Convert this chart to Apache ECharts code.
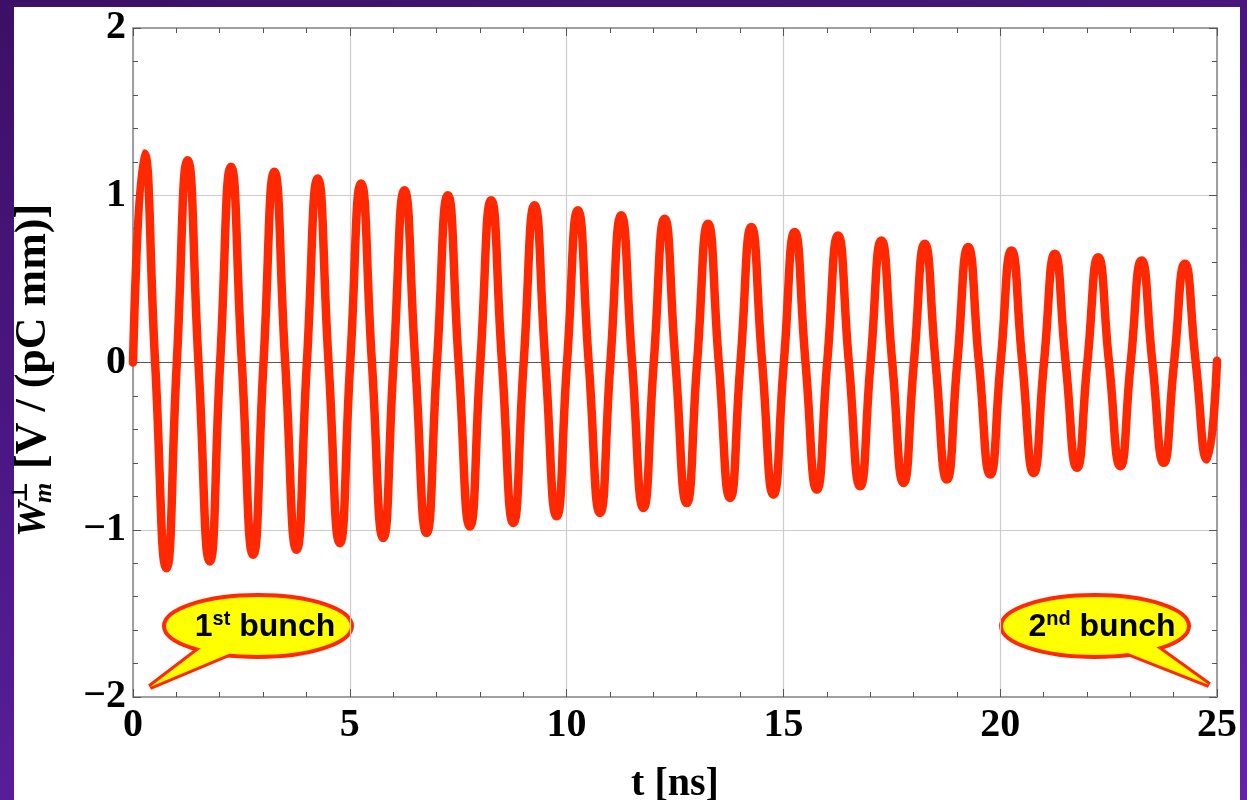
<!DOCTYPE html>
<html>
<head>
<meta charset="utf-8">
<script src="https://cdn.jsdelivr.net/npm/echarts@6/dist/echarts.min.js"></script>
<style>
  html, body { margin: 0; padding: 0; }
  body {
    width: 1247px; height: 800px; overflow: hidden; position: relative;
    background: linear-gradient(165deg, #3c1066 0%, #4d1888 45%, #6424aa 100%);
  }
  #panel { position: absolute; left: 14px; top: 7px; width: 1226px; height: 793px; background: #fff; }
  #chart { position: absolute; left: 0; top: 0; width: 1247px; height: 800px; }
</style>
</head>
<body>
<div id="panel"></div>
<div id="chart"></div>
<script>
// wake potential
const peakT = [0.26, 1.26, 2.26, 3.26, 4.26, 5.26, 6.26, 7.26, 8.26, 9.26, 10.26, 11.26, 12.26,
  13.26, 14.26, 15.26, 16.26, 17.26, 18.26, 19.26, 20.26, 21.26, 22.26, 23.26, 24.26];
const peakV = [1.25, 1.21, 1.17, 1.14, 1.10, 1.07, 1.03, 1.00, 0.97, 0.94, 0.91, 0.88, 0.86,
  0.83, 0.81, 0.78, 0.76, 0.73, 0.71, 0.69, 0.67, 0.65, 0.63, 0.61, 0.59];
const troughT = [0.77, 1.77, 2.77, 3.77, 4.77, 5.77, 6.77, 7.77, 8.77, 9.77, 10.77, 11.77, 12.77,
  13.77, 14.77, 15.77, 16.77, 17.77, 18.77, 19.77, 20.77, 21.77, 22.77, 23.77, 24.77];
const troughV = [-1.23, -1.19, -1.15, -1.12, -1.08, -1.05, -1.02, -0.98, -0.96, -0.92, -0.90, -0.87, -0.84,
  -0.81, -0.79, -0.76, -0.74, -0.72, -0.70, -0.67, -0.66, -0.63, -0.62, -0.60, -0.58];
// zero crossings (up then down in each ns)
const upT = [0, 1.01, 2.01, 3.01, 4.01, 5.01, 6.01, 7.01, 8.01, 9.01, 10.01, 11.01, 12.01,
  13.01, 14.01, 15.01, 16.01, 17.01, 18.01, 19.01, 20.01, 21.01, 22.01, 23.01, 24.01];
const downT = [0.51, 1.51, 2.51, 3.51, 4.51, 5.51, 6.51, 7.51, 8.51, 9.51, 10.51, 11.51, 12.51,
  13.51, 14.51, 15.51, 16.51, 17.51, 18.51, 19.51, 20.51, 21.51, 22.51, 23.51, 24.51];
const endPoint = [25, 0.01];

const xTicks = { min: 0, max: 25, interval: 5, minor: 1 };
const yTicks = { min: -2, max: 2, interval: 1, minor: 0.2 };

const points = [];
for (let k = 0; k < peakT.length; k++) {
  points.push([upT[k], 0]);
  points.push([peakT[k], peakV[k]]);
  points.push([downT[k], 0]);
  points.push([troughT[k], troughV[k]]);
}
points.push(endPoint);

const chart = echarts.init(document.getElementById('chart'), null, { renderer: 'canvas' });

const frameLine = { show: true, onZero: false, lineStyle: { color: '#a0a0a0', width: 2 } };
const noLine = { show: false, onZero: false };
const tickOf = len => ({ show: true, inside: true, length: len, lineStyle: { color: '#555', width: 1 } });
const serifLabel = { fontFamily: 'Liberation Serif', fontWeight: 'bold', fontSize: 40, color: '#000' };

// frame axis without labels (top/right, and the minor tick layers)
const plainAxis = (pos, t, step, line) => ({
  type: 'value', position: pos, min: t.min, max: t.max, interval: step,
  axisLine: line ? frameLine : noLine,
  axisTick: tickOf(line ? 8 : 5),
  axisLabel: { show: false }, splitLine: { show: false }
});

const bubble = (cx, cy, tip, in1, in2, richText) => ({
  type: 'group',
  children: [
    { type: 'polygon', shape: { points: [in1, tip, in2] },
      style: { fill: '#ffff00', stroke: '#ff2800', lineWidth: 6, lineJoin: 'bevel' } },
    { type: 'ellipse', shape: { cx: cx, cy: cy, rx: 94, ry: 31 },
      style: { fill: '#ffff00', stroke: '#ff2800', lineWidth: 4 } },
    { type: 'polygon', shape: { points: [in1, tip, in2] },
      style: { fill: '#ffff00', stroke: null } },
    { type: 'text', x: cx + 7, y: cy, style: {
        text: richText, align: 'center', verticalAlign: 'middle',
        rich: {
          a: { fontFamily: 'Liberation Sans', fontWeight: 'bold', fontSize: 32, lineHeight: 34,
               color: '#3b1470', verticalAlign: 'bottom' },
          s: { fontFamily: 'Liberation Sans', fontWeight: 'bold', fontSize: 20, lineHeight: 20,
               color: '#3b1470', verticalAlign: 'top' }
        } } }
  ]
});

const option = {
  animation: false,
  backgroundColor: 'transparent',
  grid: { left: 133, right: 30, top: 28, bottom: 103, outerBoundsMode: 'none', containLabel: false },
  xAxis: [
    {
      type: 'value', position: 'bottom', min: xTicks.min, max: xTicks.max, interval: xTicks.interval,
      axisLine: frameLine, axisTick: tickOf(8),
      axisLabel: Object.assign({ margin: 9 }, serifLabel),
      splitLine: { show: true, lineStyle: { color: '#cccccc', width: 1.2 } },
      name: 't [ns]', nameLocation: 'middle', nameGap: 68,
      nameTextStyle: { fontFamily: 'Liberation Serif', fontWeight: 'bold', fontSize: 40, color: '#000' }
    },
    plainAxis('top', xTicks, xTicks.interval, true),
    plainAxis('bottom', xTicks, xTicks.minor, false),
    plainAxis('top', xTicks, xTicks.minor, false)
  ],
  yAxis: [
    {
      type: 'value', position: 'left', min: yTicks.min, max: yTicks.max, interval: yTicks.interval,
      axisLine: frameLine, axisTick: tickOf(8),
      axisLabel: Object.assign({ margin: 7, formatter: v => (v < 0 ? '\u2212' + Math.abs(v) : String(v)) }, serifLabel),
      splitLine: { show: true, lineStyle: { color: ['#cccccc', '#cccccc', '#555555', '#cccccc', '#cccccc'], width: 1.2 } }
    },
    plainAxis('right', yTicks, yTicks.interval, true),
    plainAxis('left', yTicks, yTicks.minor, false),
    plainAxis('right', yTicks, yTicks.minor, false)
  ],
  series: [
    {
      type: 'line',
      data: points,
      xAxisIndex: 0, yAxisIndex: 0,
      showSymbol: false,
      smooth: 0.55,
      lineStyle: { color: '#ff2800', width: 8.5, cap: 'round', join: 'round' },
      z: 3
    }
  ],
  graphic: [
    // y axis title, reads bottom to top
    {
      type: 'group', x: 34, y: 365, rotation: Math.PI / 2,
      children: [
        { type: 'text', x: -172, y: 0, style: { text: 'W', align: 'left', verticalAlign: 'middle',
            font: 'italic bold 40px "Liberation Serif"', fill: '#000' } },
        { type: 'text', x: -138, y: -13, style: { text: '\u22A5', align: 'left', verticalAlign: 'middle',
            font: 'bold 22px "DejaVu Serif"', fill: '#000' } },
        { type: 'text', x: -138, y: 10, style: { text: 'm', align: 'left', verticalAlign: 'middle',
            font: 'italic bold 26px "Liberation Serif"', fill: '#000' } },
        { type: 'text', x: -104, y: 0, style: { text: '[V / (pC mm)]', align: 'left', verticalAlign: 'middle',
            font: 'bold 44px "Liberation Serif"', fill: '#000' } }
      ]
    },
    bubble(258, 626, [150, 687], [213, 639], [250, 645], '{a|1}{s|st}{a| bunch}'),
    bubble(1095, 626, [1209, 685], [1110, 646], [1145, 639], '{a|2}{s|nd}{a| bunch}')
  ]
};

chart.setOption(option);
</script>
</body>
</html>
